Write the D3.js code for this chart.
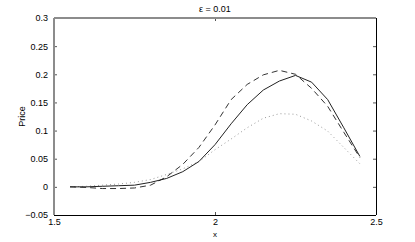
<!DOCTYPE html>
<html>
<head>
<meta charset="utf-8">
<script src="https://cdn.jsdelivr.net/npm/d3@7"></script>
<style>
  body { margin: 0; background: #fff; }
  text { font-family: "Liberation Sans", Arial, sans-serif; }
</style>
</head>
<body>
<svg id="chart" width="415" height="242"></svg>
<script>
// grid of x values (step 0.05)
var xs = [1.55, 1.60, 1.65, 1.70, 1.75, 1.80, 1.85, 1.90, 1.95, 2.00,
          2.05, 2.10, 2.15, 2.20, 2.25, 2.30, 2.35, 2.40, 2.45];

var solid  = [0.000, 0.000, 0.001, 0.002, 0.003, 0.008, 0.015, 0.027, 0.045, 0.075,
              0.112, 0.146, 0.172, 0.188, 0.198, 0.186, 0.155, 0.105, 0.054];
var dashed = [0.000, -0.001, -0.003, -0.003, -0.002, 0.003, 0.018, 0.040, 0.070, 0.110,
              0.155, 0.182, 0.199, 0.207, 0.200, 0.175, 0.143, 0.097, 0.052];
var dotted = [0.000, 0.001, 0.003, 0.005, 0.008, 0.013, 0.022, 0.032, 0.045, 0.066,
              0.085, 0.105, 0.122, 0.130, 0.129, 0.117, 0.099, 0.070, 0.041];

var xTicks = [1.5, 2, 2.5];
var yTicks = [-0.05, 0, 0.05, 0.1, 0.15, 0.2, 0.25, 0.3];

// plot box (window.top is reserved, so use other names)
var pL = 54, pR = 376, pT = 18, pB = 215;

var svg = d3.select("#chart");

var x = d3.scaleLinear().domain([1.5, 2.5]).range([pL, pR]);
var y = d3.scaleLinear().domain([-0.05, 0.3]).range([pB, pT]);

var fmt = function(d) { return String(d).replace("-", "\u2212"); };

// axes: ticks point inward
svg.append("g")
    .attr("transform", "translate(0," + pB + ")")
    .call(d3.axisBottom(x).tickValues(xTicks).tickSize(-3).tickPadding(4).tickFormat(fmt))
    .call(function(g) { g.select(".domain").remove(); });
svg.append("g")
    .attr("transform", "translate(0," + pT + ")")
    .call(d3.axisTop(x).tickValues(xTicks).tickSize(-3).tickFormat(""))
    .call(function(g) { g.select(".domain").remove(); });
svg.append("g")
    .attr("transform", "translate(" + pL + ",0)")
    .call(d3.axisLeft(y).tickValues(yTicks).tickSize(-3).tickPadding(6).tickFormat(fmt))
    .call(function(g) { g.select(".domain").remove(); });
svg.append("g")
    .attr("transform", "translate(" + pR + ",0)")
    .call(d3.axisRight(y).tickValues(yTicks).tickSize(-3).tickFormat(""))
    .call(function(g) { g.select(".domain").remove(); });

svg.selectAll(".tick text").attr("font-size", 9).attr("fill", "#000")
    .attr("font-family", "Liberation Sans, Arial, sans-serif");
svg.selectAll(".tick line").attr("stroke", "#555");

// box
svg.append("line").attr("x1", pL).attr("x2", pR).attr("y1", pB + 0.5).attr("y2", pB + 0.5)
    .attr("stroke", "#000").attr("stroke-width", 1);
svg.append("line").attr("x1", pR + 0.5).attr("x2", pR + 0.5).attr("y1", pT).attr("y2", pB)
    .attr("stroke", "#000").attr("stroke-width", 1);
svg.append("line").attr("x1", pL).attr("x2", pR).attr("y1", pT).attr("y2", pT)
    .attr("stroke", "#8c8c8c").attr("stroke-width", 2);
svg.append("line").attr("x1", pL).attr("x2", pL).attr("y1", pT).attr("y2", pB)
    .attr("stroke", "#8c8c8c").attr("stroke-width", 2);

var line = d3.line()
    .x(function(d, i) { return x(xs[i]); })
    .y(function(d) { return y(d); });

svg.append("path").datum(dotted).attr("d", line)
    .attr("fill", "none").attr("stroke", "#999").attr("stroke-width", 1)
    .attr("stroke-dasharray", "1,3");
svg.append("path").datum(dashed).attr("d", line)
    .attr("fill", "none").attr("stroke", "#333").attr("stroke-width", 1)
    .attr("stroke-dasharray", "6,4");
svg.append("path").datum(solid).attr("d", line)
    .attr("fill", "none").attr("stroke", "#222").attr("stroke-width", 1);

// labels
svg.append("text").attr("x", (pL + pR) / 2).attr("y", 12)
    .attr("text-anchor", "middle").attr("font-size", 9).text("\u03b5 = 0.01");
svg.append("text").attr("x", (pL + pR) / 2).attr("y", 237)
    .attr("text-anchor", "middle").attr("font-size", 8).text("x");
svg.append("text").attr("transform", "translate(25," + ((pT + pB) / 2) + ") rotate(-90)")
    .attr("text-anchor", "middle").attr("font-size", 9).text("Price");
</script>
</body>
</html>
